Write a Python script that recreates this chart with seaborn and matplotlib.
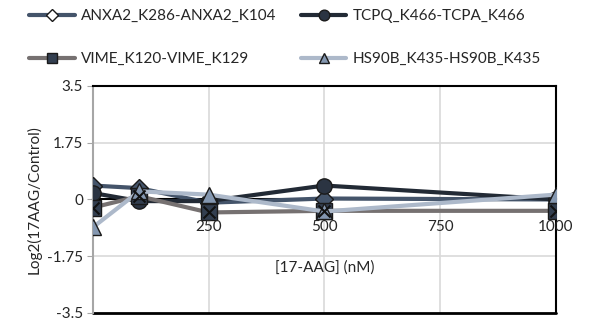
import pandas as pd
import seaborn as sns
import matplotlib.pyplot as plt
from matplotlib.lines import Line2D

sns.set_style('white')
plt.rcParams['font.family'] = ['Lato', 'DejaVu Sans']

# Data
doses = [0, 100, 250, 500, 1000]
anxa2 = [0.43, 0.35, -0.10, 0.03, 0.00]
tcpq = [0.20, -0.05, -0.05, 0.43, 0.00]
vime = [-0.25, 0.10, -0.40, -0.35, -0.35]
hs90b = [-0.86, 0.25, 0.15, -0.37, 0.15]

names = ['ANXA2_K286-ANXA2_K104', 'TCPQ_K466-TCPA_K466',
         'VIME_K120-VIME_K129', 'HS90B_K435-HS90B_K435']
line_colors = ['#44546A', '#222A35', '#767171', '#ADB9CA']
face_colors = ['#44546A', '#2B3442', '#333F50', '#8497B0']
markers = ['D', 'o', 's', '^']
sizes = [9, 11, 11, 11]

df = pd.DataFrame({'dose': doses * 4,
                   'value': anxa2 + tcpq + vime + hs90b,
                   'series': [n for n in names for _ in doses]})

fig = plt.figure(figsize=(5.99, 3.22), dpi=100)
ax = fig.add_axes([0.155, 0.028, 0.773, 0.705])

handles = []
for name, lc, fc, m, s in zip(names, line_colors, face_colors, markers, sizes):
    sub = df[df['series'] == name]
    sns.lineplot(data=sub, x='dose', y='value', ax=ax, color=lc, lw=3,
                 marker=m, markersize=s, markerfacecolor=fc,
                 markeredgecolor='#1a1a1a', markeredgewidth=1, zorder=3)
    if m == 's':
        sns.scatterplot(data=sub, x='dose', y='value', ax=ax, marker='x',
                        color='#111111', s=75, linewidth=1.5, zorder=4)
    handles.append(Line2D([], [], color=lc, lw=3, marker=m,
                          markersize=s * 0.7,
                          markerfacecolor='white' if m == 'D' else fc,
                          markeredgecolor='#1a1a1a'))

ax.set_xlim(0, 1000)
ax.set_ylim(-3.5, 3.5)
ax.set_xticks([250, 500, 750, 1000])
ax.set_xticklabels(['250', '500', '750', '1000'])
ax.set_yticks([-3.5, -1.75, 0, 1.75, 3.5])
ax.set_yticklabels(['-3.5', '-1.75', '0', '1.75', '3.5'])
ax.tick_params(axis='x', length=0, pad=15, labelsize=11)
ax.tick_params(axis='y', length=4, color='#A6A6A6', direction='out',
               labelsize=11, left=True, pad=3)
ax.xaxis.set_zorder(6)

for v in [250, 500, 750]:
    ax.axvline(v, color='#D9D9D9', lw=1.2, zorder=0)
for v in [1.75, -1.75]:
    ax.axhline(v, color='#D9D9D9', lw=1.2, zorder=0)

ax.spines['bottom'].set_position(('data', 0))
ax.spines['bottom'].set_color('black')
ax.spines['bottom'].set_linewidth(1.5)
ax.spines['bottom'].set_zorder(2)
ax.axhline(-3.5, color='black', lw=2, zorder=2, clip_on=False)
ax.spines['top'].set_color('black')
ax.spines['top'].set_linewidth(1.5)
ax.spines['right'].set_color('black')
ax.spines['right'].set_linewidth(1.5)
ax.spines['left'].set_color('#A6A6A6')
ax.spines['left'].set_linewidth(1.5)

ax.set_xlabel('')
ax.set_ylabel('Log2(17AAG/Control)', fontsize=11, labelpad=4)
ax.text(500, -2.1, '[17-AAG] (nM)', ha='center', va='center', fontsize=11)

# legend fills by column, so reorder to get ANXA2/TCPQ on the first row
order = [0, 2, 1, 3]
fig.legend([handles[i] for i in order], [names[i] for i in order],
           loc='upper left', bbox_to_anchor=(0.025, 1.015),
           ncol=2, frameon=False, fontsize=11, handlelength=3.0,
           columnspacing=1.6, handletextpad=0.4, labelspacing=1.9)

fig.savefig('out.png', dpi=100)
